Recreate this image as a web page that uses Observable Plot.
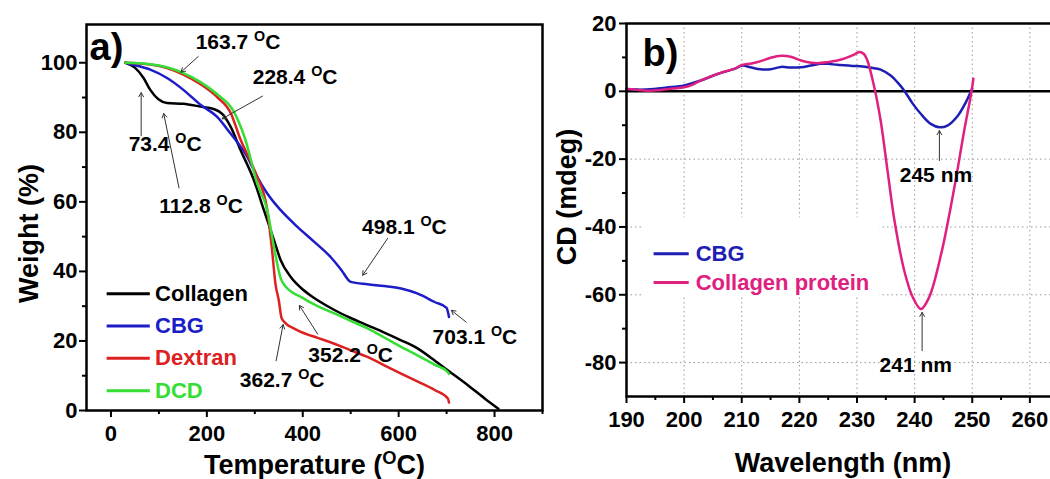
<!DOCTYPE html>
<html><head><meta charset="utf-8">
<script src="https://cdn.jsdelivr.net/npm/d3@7"></script>
<script src="https://cdn.jsdelivr.net/npm/@observablehq/plot@0.6"></script>
<style>
html,body{margin:0;padding:0;background:#fff;}
#wrap{position:relative;width:1050px;height:479px;overflow:hidden;background:#fff;}
#pa{position:absolute;left:0;top:0;width:545px;height:479px;}
#pb{position:absolute;left:540px;top:0;width:550px;height:479px;}
</style></head><body>
<div id="wrap"><div id="pa"></div><div id="pb"></div></div>
<script>
// ---------- Panel a) TGA data ----------
const tgaSeries = ["Collagen", "CBG", "Dextran", "DCD"];
const tgaColors = ["#000000", "#1c1cc8", "#dd2020", "#35dd35"];
const tgaCollagen = [[30,100],[50,98.6],[68,95.6],[82,92.2],[99,89.5],[117,88.4],[151,88.2],[186,87.4],[214,86.7],[232,85.3],[250,81.5],[270,75],[298,66.3],[319,57.6],[340,49],[354,43.2],[375,38.4],[396,35.3],[417,33],[431,31.7],[466,28.9],[500,26.6],[535,24.5],[570,22.4],[605,20.2],[640,17.8],[675,14.4],[703,11.5],[745,7.2],[780,3.4],[808,0.5]];
const tgaCBG = [[30,100],[50,99.3],[82,98],[117,95.6],[151,92.2],[186,88],[221,84.5],[249,79.7],[284,73],[305,67.2],[326,62.4],[354,57.6],[389,52.8],[424,48.5],[459,44],[480,40.5],[500,37],[535,36.3],[570,35.8],[605,35.1],[640,33.6],[675,31.2],[700,29.5],[703,28.2],[705,26.9]];
const tgaDextran = [[30,100],[82,99.5],[117,98.5],[151,96.6],[186,93.9],[221,90.2],[250,85.5],[270,78],[290,72],[305,67.2],[326,57.6],[336,46.1],[343,36.5],[350,31.7],[356,26.5],[365,25],[380,23.7],[396,22.6],[431,20.9],[466,19.2],[500,17.3],[535,15.4],[570,13],[605,10.6],[640,8.3],[675,5.9],[703,3.4],[705,2.3]];
const tgaDCD = [[30,100],[82,99.6],[117,98.7],[151,97],[186,94.5],[221,91],[256,86],[280,78],[305,65.3],[326,57.6],[340,47],[354,38],[365,35.5],[380,33.8],[396,32.7],[417,31],[431,30],[466,27.9],[500,25.8],[535,23.6],[570,21],[605,18.3],[640,15.8],[675,13.2],[703,11],[705,10.5]];
const tgaXTicks = [0, 200, 400, 600, 800];
const tgaXMinor = [100, 300, 500, 700, 900];
const tgaYTicks = [0, 20, 40, 60, 80, 100];
const tgaYMinor = [10, 30, 50, 70, 90];
const tgaNotes = [
  {label: "163.7 OC", x: 265, y: 105.8},
  {label: "228.4 OC", x: 384, y: 95.8},
  {label: "73.4 OC", x: 113, y: 76.5},
  {label: "112.8 OC", x: 188, y: 58.6},
  {label: "498.1 OC", x: 612, y: 52.8},
  {label: "703.1 OC", x: 759, y: 21.1},
  {label: "352.2 OC", x: 500, y: 16},
  {label: "362.7 OC", x: 357, y: 8.8}
];
const tgaArrows = [
  {x1: 182, y1: 101.8, x2: 146, y2: 97.3},
  {x1: 316, y1: 90.4, x2: 232, y2: 83.9},
  {x1: 63, y1: 79, x2: 63, y2: 91.4},
  {x1: 142, y1: 64, x2: 110, y2: 85.4},
  {x1: 577, y1: 49.5, x2: 525, y2: 38.9},
  {x1: 741, y1: 25.4, x2: 710, y2: 28.8},
  {x1: 431, y1: 22, x2: 393, y2: 30.2},
  {x1: 344.5, y1: 14.3, x2: 359, y2: 24.7}
];

// ---------- Panel b) CD data ----------
const cdSeries = ["CBG", "Collagen protein"];
const cdColors = ["#1e1eb4", "#e0207f"];
const cdCBG = [[190,0.7],[192,0.5],[194.8,0.7],[197,1.1],[200,1.7],[202.9,3.2],[205.8,5.1],[208.7,6.6],[210.1,7.6],[211.5,7.1],[213.3,6.5],[215,6.5],[216.8,7.2],[218.5,7],[220.3,7.1],[222,7.6],[223.8,8.1],[225,8.1],[226.6,7.8],[229.2,7.5],[231,7.3],[233,6.8],[234.1,6.4],[235.9,4.6],[237,2.7],[238.2,0.2],[239.7,-3.7],[241.1,-6.7],[242.8,-9.6],[244.3,-10.6],[245.7,-10.1],[247.5,-7.2],[248.9,-3.2],[250,0.8]];
const cdCollagen = [[190,0.7],[191.5,0.5],[193.6,0.2],[196,0.4],[198,0.8],[200,1.2],[201.5,2],[202.9,3.2],[204.3,4.2],[205.8,5.1],[207.2,5.9],[208.7,6.6],[210.1,7.8],[211.7,8.2],[213.3,8.9],[215,9.9],[216.8,10.5],[218.5,10.2],[220.3,9.1],[221.8,8.5],[223.2,8.3],[224.9,8.6],[226.6,9.1],[228,9.8],[229.5,10.8],[230.4,11.6],[231.2,11],[231.8,9.1],[233,1.2],[234.1,-8.6],[235.3,-23.4],[236.5,-38.1],[238.2,-52.9],[239.7,-60.8],[241.1,-64.2],[242.5,-60.8],[244.6,-48],[246.9,-28.3],[248.6,-11.6],[249.8,-0.8],[250.2,3.7]];
const cdXTicks = [190, 200, 210, 220, 230, 240, 250, 260];
const cdXMinor = [195, 205, 215, 225, 235, 245, 255, 265];
const cdYTicks = [20, 0, -20, -40, -60, -80];
const cdYMinor = [10, -10, -30, -50, -70];
const cdGridX = [200, 210, 220, 230, 240, 250, 260];
const cdGridY = [-20, -40, -60, -80];
const cdNotes = [
  {label: "245 nm", x: 243.7, y: -24.9},
  {label: "241 nm", x: 240.2, y: -80.9}
];
const cdArrows = [
  {x1: 244.3, y1: -20.4, x2: 244.3, y2: -11.6},
  {x1: 241.3, y1: -76.5, x2: 241.3, y2: -65.2}
];

// ---------- helpers ----------
const FONT = "'Liberation Sans', Arial, Helvetica, sans-serif";
const svgStyle = `font-family:${FONT};font-size:22px;font-weight:bold;max-width:none;background:transparent;overflow:visible;`;
const fmt = d => String(d);

function superscriptO(svg) {
  d3.select(svg).selectAll("text").each(function () {
    if (this.children.length) return;
    const t = this.textContent;
    const m = t.match(/^(.*(?:\d |\())OC(\)?)$/);
    if (!m) return;
    this.textContent = "";
    const s = d3.select(this);
    s.append("tspan").text(m[1]);
    s.append("tspan").attr("baseline-shift", "super").attr("font-size", "68%").text("O");
    s.append("tspan").text("C" + m[2]);
  });
  return svg;
}

const tgaRows = [];
[tgaCollagen, tgaCBG, tgaDextran, tgaDCD].forEach((arr, i) =>
  arr.forEach(([t, w]) => tgaRows.push({series: tgaSeries[i], t, w})));
const cdRows = [];
[cdCBG, cdCollagen].forEach((arr, i) =>
  arr.forEach(([w, cd]) => cdRows.push({series: cdSeries[i], w, cd})));

const title = {textAnchor: "middle", lineAnchor: "middle", fontSize: 27};

// ---------- Panel a ----------
const legA = {x1: -9, x2: 81, tx: 92, y0: 33.6, dy: 9.3};
const plotA = Plot.plot({
  width: 545, height: 479,
  marginLeft: 86, marginRight: 3, marginTop: 24, marginBottom: 69,
  style: svgStyle,
  x: {domain: [-51, 900]},
  y: {domain: [0, 111]},
  color: {domain: tgaSeries, range: tgaColors},
  marks: [
    Plot.axisX({ticks: tgaXTicks, tickSize: 7, tickPadding: 8, strokeWidth: 2, label: null, tickFormat: fmt, fontSize: 22}),
    Plot.axisX({ticks: tgaXMinor, tickSize: 4, text: null, strokeWidth: 2, label: null}),
    Plot.axisY({ticks: tgaYTicks, tickSize: 7, tickPadding: 2, strokeWidth: 2, label: null, tickFormat: fmt, fontSize: 22}),
    Plot.axisY({ticks: tgaYMinor, tickSize: 4, text: null, strokeWidth: 2, label: null}),
    Plot.line(tgaRows, {x: "t", y: "w", z: "series", stroke: "series", strokeWidth: 2.5, curve: "monotone-x"}),
    Plot.arrow(tgaArrows, {x1: "x1", y1: "y1", x2: "x2", y2: "y2", stroke: "#333", strokeWidth: 1, headLength: 7}),
    Plot.text(tgaNotes, {x: "x", y: "y", text: "label", fontSize: 21}),
    Plot.link(tgaSeries, {x1: () => legA.x1, x2: () => legA.x2, y1: (d, i) => legA.y0 - i * legA.dy, y2: (d, i) => legA.y0 - i * legA.dy, stroke: d => d, strokeWidth: 3}),
    Plot.text(tgaSeries, {x: () => legA.tx, y: (d, i) => legA.y0 - i * legA.dy, text: d => d, fill: d => d, textAnchor: "start", fontSize: 22}),
    Plot.text(["a)"], {frameAnchor: "top-left", dx: 3, dy: 23, textAnchor: "start", lineAnchor: "middle", fontSize: 38}),
    Plot.text(["Temperature (OC)"], {...title, frameAnchor: "bottom", dy: 55}),
    Plot.text(["Weight (%)"], {...title, frameAnchor: "left", dx: -57, dy: 16, rotate: -90}),
    Plot.frame({strokeWidth: 2.5})
  ]
});
document.getElementById("pa").appendChild(superscriptO(plotA));

// ---------- Panel b ----------
const legB = {x1: 194.7, x2: 200.8, tx: 202, y0: -47.9, dy: 8.5};
const legBox = {x1: 193, x2: 234, y1: -37.3, y2: -60.8};
const plotB = Plot.plot({
  width: 550, height: 479,
  marginLeft: 86, marginRight: 3, marginTop: 23, marginBottom: 83,
  style: svgStyle,
  x: {domain: [190, 270]},
  y: {domain: [-90, 20]},
  color: {domain: cdSeries, range: cdColors},
  marks: [
    Plot.gridX(cdGridX, {stroke: "#9a9a9a", strokeOpacity: 1, strokeWidth: 1, strokeDasharray: "1.5 3"}),
    Plot.gridY(cdGridY, {stroke: "#9a9a9a", strokeOpacity: 1, strokeWidth: 1, strokeDasharray: "1.5 3"}),
    Plot.rect([legBox], {x1: "x1", x2: "x2", y1: "y1", y2: "y2", fill: "white"}),
    Plot.ruleY([0], {strokeWidth: 2.5}),
    Plot.axisX({ticks: cdXTicks, tickSize: 7, tickPadding: 8, strokeWidth: 2, label: null, tickFormat: fmt, fontSize: 22}),
    Plot.axisX({ticks: cdXMinor, tickSize: 4, text: null, strokeWidth: 2, label: null}),
    Plot.axisY({ticks: cdYTicks, tickSize: 7, tickPadding: 3, strokeWidth: 2, label: null, tickFormat: fmt, fontSize: 22}),
    Plot.axisY({ticks: cdYMinor, tickSize: 4, text: null, strokeWidth: 2, label: null}),
    Plot.line(cdRows, {x: "w", y: "cd", z: "series", stroke: "series", strokeWidth: 2.5, curve: "catmull-rom"}),
    Plot.arrow(cdArrows, {x1: "x1", y1: "y1", x2: "x2", y2: "y2", stroke: "#333", strokeWidth: 1, headLength: 7}),
    Plot.text(cdNotes, {x: "x", y: "y", text: "label", fontSize: 21}),
    Plot.link(cdSeries, {x1: () => legB.x1, x2: () => legB.x2, y1: (d, i) => legB.y0 - i * legB.dy, y2: (d, i) => legB.y0 - i * legB.dy, stroke: d => d, strokeWidth: 3}),
    Plot.text(cdSeries, {x: () => legB.tx, y: (d, i) => legB.y0 - i * legB.dy, text: d => d, fill: d => d, textAnchor: "start", fontSize: 22}),
    Plot.text(["b)"], {frameAnchor: "top-left", dx: 16, dy: 30, textAnchor: "start", lineAnchor: "middle", fontSize: 38}),
    Plot.text(["Wavelength (nm)"], {...title, frameAnchor: "bottom", dy: 67, dx: -14}),
    Plot.text(["CD (mdeg)"], {...title, frameAnchor: "left", dx: -59, dy: -13, rotate: -90}),
    Plot.frame({strokeWidth: 2.5})
  ]
});
document.getElementById("pb").appendChild(superscriptO(plotB));
</script></body></html>
